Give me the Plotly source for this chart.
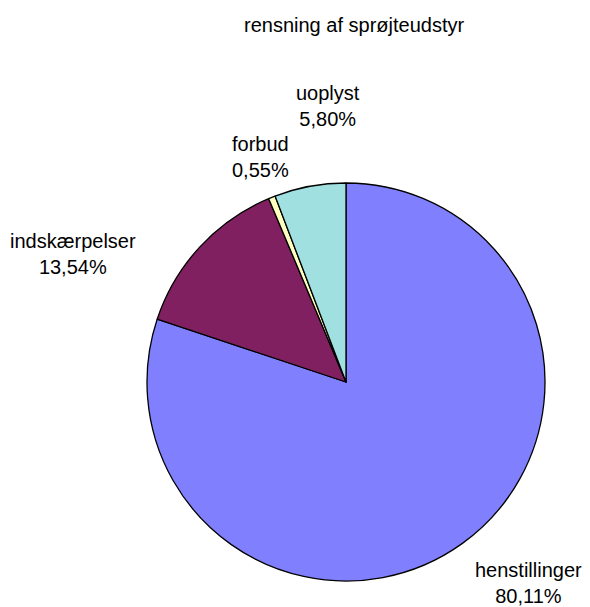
import plotly.graph_objects as go

# ---- data ----
title_text = "rensning af sprøjteudstyr"
categories = ["henstillinger", "indskærpelser", "forbud", "uoplyst"]
percentages = [80.11, 13.54, 0.55, 5.80]

# ---- styling / layout ----
colors = ["#8080FF", "#802060", "#FFFFC0", "#A0E0E0"]
PAGE_OFF = 8  # default body margin of the html page
W, H = 590 - PAGE_OFF, 607 - PAGE_OFF
FONT = "Liberation Sans, Arial, sans-serif"

# pie placement in page pixels (left, right, top, bottom)
pie_left, pie_right, pie_top, pie_bottom = 147, 545, 183, 581

# label block centres in page pixels (layout only)
label_pos = {
    "henstillinger": (528, 583),
    "indskærpelser": (73, 254),
    "forbud": (260, 157),
    "uoplyst": (328, 106),
}

def px_x(x):
    return (x - PAGE_OFF) / W

def px_y(y):
    return 1 - (y - PAGE_OFF) / H

fig = go.Figure(
    go.Pie(
        labels=categories,
        values=percentages,
        sort=False,
        direction="clockwise",
        rotation=0,
        marker=dict(colors=colors, line=dict(color="black", width=1.3)),
        textinfo="none",
        hoverinfo="label+percent",
        showlegend=False,
        domain=dict(x=[px_x(pie_left), px_x(pie_right)],
                    y=[px_y(pie_bottom), px_y(pie_top)]),
    )
)

def fmt(p):
    return f"{p:.2f}".replace(".", ",") + "%"

annotations = []
for cat, p in zip(categories, percentages):
    x, y = label_pos[cat]
    annotations.append(dict(
        x=px_x(x), y=px_y(y), xref="paper", yref="paper",
        text=f"{cat}<br>{fmt(p)}", showarrow=False,
        xanchor="center", yanchor="middle", align="center",
        font=dict(family=FONT, size=20, color="black"),
    ))

annotations.append(dict(
    x=px_x(354), y=px_y(25), xref="paper", yref="paper",
    text=title_text, showarrow=False, xanchor="center", yanchor="middle",
    font=dict(family=FONT, size=20, color="black"),
))

fig.update_layout(
    width=W, height=H,
    margin=dict(l=0, r=0, t=0, b=0),
    paper_bgcolor="white", plot_bgcolor="white",
    annotations=annotations,
)

fig.write_html("out.html")
